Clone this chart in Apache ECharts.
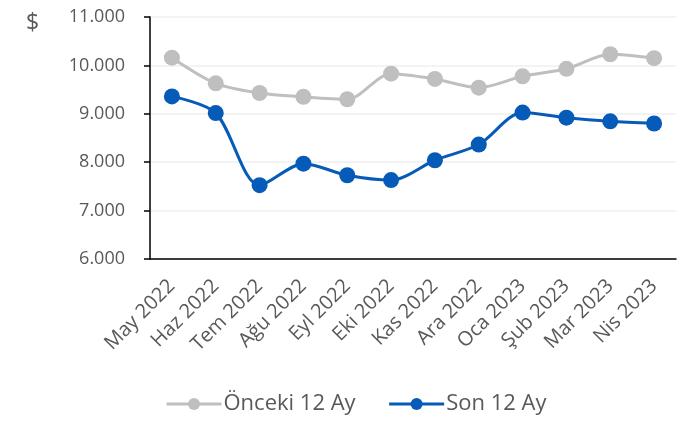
<!DOCTYPE html>
<html>
<head>
<meta charset="utf-8">
<script src="https://cdn.jsdelivr.net/npm/echarts@6/dist/echarts.min.js"></script>
<style>
  html, body { margin: 0; padding: 0; background: #fff; }
  #chart { width: 694px; height: 421px; }
</style>
</head>
<body>
<div id="chart"></div>
<script>
const months = ['May 2022', 'Haz 2022', 'Tem 2022', 'Ağu 2022', 'Eyl 2022', 'Eki 2022',
  'Kas 2022', 'Ara 2022', 'Oca 2023', 'Şub 2023', 'Mar 2023', 'Nis 2023']
const previous12 = [10160, 9630, 9430, 9350, 9300, 9830, 9720, 9540, 9775, 9930, 10230, 10150]
const last12 = [9360, 9015, 7525, 7970, 7730, 7630, 8040, 8365, 9025, 8920, 8845, 8800]
const seriesNames = ['Önceki 12 Ay', 'Son 12 Ay']

const textColor = '#595959'
const font = 'Open Sans'

const chart = echarts.init(document.getElementById('chart'))

function fmt(v) {
  return v.toFixed(0).replace(/\B(?=(\d{3})+(?!\d))/g, '.')
}

function lineSeries(name, data, color) {
  return {
    name: name,
    type: 'line',
    data: data,
    smooth: 0.3,
    symbol: 'circle',
    symbolSize: 16,
    lineStyle: { color: color, width: 3 },
    itemStyle: { color: color },
    emphasis: { disabled: true }
  }
}

chart.setOption({
  animation: false,
  textStyle: { fontFamily: font },
  grid: { left: 150, right: 18, top: 17, bottom: 162 },
  graphic: [{
    type: 'text',
    left: 26,
    top: 12,
    style: { text: '$', fill: textColor, font: '23px "Open Sans"' }
  }],
  legend: {
    top: 388,
    left: 160,
    itemGap: 32,
    itemWidth: 55,
    itemHeight: 15,
    data: seriesNames,
    lineStyle: { width: 3 },
    textStyle: { color: textColor, fontSize: 22, fontFamily: font, padding: [0, 0, 0, -3] }
  },
  xAxis: {
    type: 'category',
    data: months,
    boundaryGap: true,
    axisLine: { lineStyle: { color: '#000', width: 1.5 } },
    axisTick: { alignWithLabel: true, length: 6, lineStyle: { color: '#000', width: 1.5 } },
    axisLabel: {
      rotate: 45,
      interval: 0,
      color: textColor,
      fontSize: 20,
      fontFamily: font,
      margin: 24
    }
  },
  yAxis: {
    type: 'value',
    min: 6000,
    max: 11000,
    interval: 1000,
    axisLine: { show: true, lineStyle: { color: '#000', width: 1.5 } },
    axisTick: { show: true, length: 6, lineStyle: { color: '#000', width: 1.5 } },
    splitLine: { lineStyle: { color: '#efefef', width: 1.5 } },
    axisLabel: {
      color: textColor,
      fontSize: 18,
      fontFamily: font,
      margin: 25,
      formatter: fmt
    }
  },
  series: [
    lineSeries(seriesNames[0], previous12, '#bfbfbf'),
    lineSeries(seriesNames[1], last12, '#065bb8')
  ]
})
</script>
</body>
</html>
